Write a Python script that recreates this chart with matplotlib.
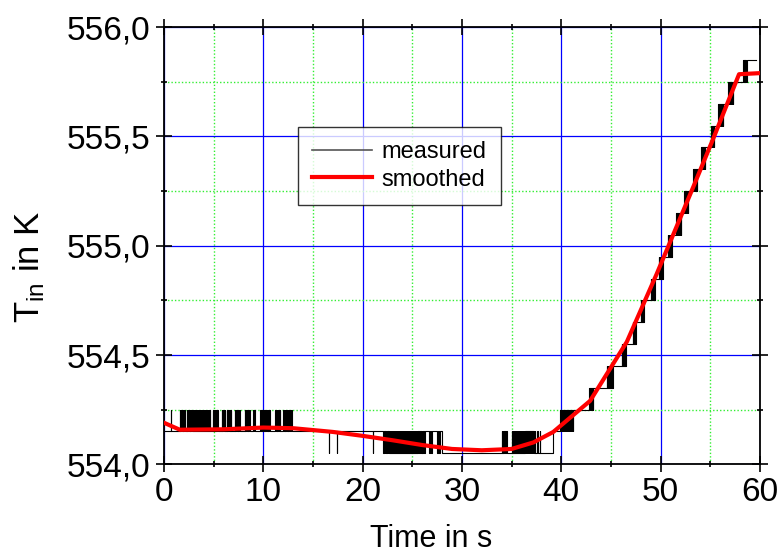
import matplotlib.pyplot as plt
import numpy as np
from matplotlib.ticker import FixedLocator

plt.rcParams['font.family'] = ['Liberation Sans', 'DejaVu Sans']
plt.rcParams['mathtext.fontset'] = 'custom'
plt.rcParams['mathtext.rm'] = 'Liberation Sans'
plt.rcParams['mathtext.it'] = 'Liberation Sans'

# raw sensor reading: settled quantised level and the time it is reached
settle_t = [0.0, 28.0, 39.2, 41.2, 43.2, 45.2, 46.5, 47.5, 48.3, 49.4, 50.2,
            51.2, 52.1, 52.8, 53.7, 54.5, 55.4, 56.3, 57.3, 58.7]
settle_T = [554.15, 554.05, 554.15, 554.25, 554.35, 554.45, 554.55, 554.65,
            554.75, 554.85, 554.95, 555.05, 555.15, 555.25, 555.35, 555.45,
            555.55, 555.65, 555.75, 555.85]
end_t = 59.6
q_step = 0.1      # resolution of the reading in K
blip = 0.05       # duration of a single flicker in s

# times where the reading flickers one step up
flicker_up = [
    0.7, 1.6, 1.75, 1.9, 2.05, 2.3, 2.45, 2.6, 2.75, 2.9, 3.0, 3.1, 3.2, 3.3,
    3.4, 3.5, 3.6, 3.7, 3.8, 3.9, 4.0, 4.1, 4.2, 4.3, 4.4, 4.5, 4.6,
    4.9, 5.05, 5.2, 5.35, 5.8, 5.95, 6.1, 6.3, 6.45, 6.6, 6.75, 7.15, 7.3,
    7.45, 7.6, 8.15, 8.3, 8.45, 8.6, 9.0, 9.1, 9.7, 9.85, 10.0, 10.15, 10.3,
    10.45, 10.6, 11.2, 11.35, 11.5, 11.65, 12.0, 12.15, 12.3, 12.45, 12.6, 12.8,
    34.0, 34.1, 34.25, 34.45, 35.0, 35.1, 35.2, 35.3, 35.4, 35.5, 35.6, 35.7,
    35.8, 35.9, 36.0, 36.1, 36.2, 36.3, 36.4, 36.5, 36.6, 36.7, 36.8, 36.9,
    37.0, 37.1, 37.2, 37.35, 37.6, 37.85,
    39.9, 40.0, 40.1, 40.2, 40.3, 40.4, 40.5, 40.6, 40.7, 40.8, 40.9, 41.0, 41.1,
    42.8, 42.9, 43.0, 43.1,
    44.6, 44.7, 44.8, 44.9, 45.0, 45.1,
    46.1, 46.2, 46.3, 46.4,
    47.2, 47.3, 47.4,
    48.0, 48.1, 48.2,
    49.0, 49.1, 49.2, 49.3,
    49.8, 49.9, 50.0, 50.1,
    50.7, 50.8, 50.9, 51.0, 51.1,
    51.6, 51.7, 51.8, 51.9, 52.0,
    52.4, 52.5, 52.6, 52.7,
    53.3, 53.4, 53.5, 53.6,
    54.1, 54.2, 54.3, 54.4,
    55.1, 55.2, 55.3,
    55.8, 55.9, 56.0, 56.1, 56.2,
    56.8, 56.9, 57.0, 57.1, 57.2,
    58.3, 58.4, 58.5, 58.6,
]

# times where the reading drops one step down
flicker_down = [
    16.6, 17.4, 21.0, 22.1, 22.25, 22.4, 22.55, 22.7, 22.8, 22.9, 23.0, 23.1,
    23.2, 23.3, 23.4, 23.5, 23.6, 23.7, 23.8, 23.9, 24.0, 24.1, 24.2, 24.3,
    24.4, 24.5, 24.6, 24.7, 24.8, 24.9, 25.0, 25.1, 25.2, 25.3, 25.4, 25.5,
    25.7, 25.9, 26.0, 26.2, 26.7, 26.9, 27.5, 27.7,
]

# smoothed signal
smooth_t = [0, 1.6, 6, 10, 13, 17, 20, 23, 26, 29, 32, 35, 37.2, 39.2,
            42.9, 46.6, 49.6, 53.3, 55.3, 57.9, 60]
smooth_T = [554.19, 554.158, 554.16, 554.168, 554.165, 554.148, 554.13,
            554.11, 554.088, 554.07, 554.064, 554.07, 554.10, 554.148,
            554.29, 554.56, 554.87, 555.27, 555.49, 555.785, 555.79]

x_ticks = [0, 10, 20, 30, 40, 50, 60]
y_ticks = [554.0, 554.5, 555.0, 555.5, 556.0]
y_labels = ['554,0', '554,5', '555,0', '555,5', '556,0']


def settled(t):
    i = np.searchsorted(settle_t, t, side='right') - 1
    return settle_T[i]


# build the step signal from settled levels plus flickers
events = list(zip(settle_t, settle_T))
for t in flicker_up:
    b = settled(t)
    events += [(t, b + q_step), (t + blip, b)]
for t in flicker_down:
    b = settled(t)
    events += [(t, b - q_step), (t + blip, b)]
events.sort()
events.append((end_t, settle_T[-1]))
meas_t = [e[0] for e in events]
meas_T = [e[1] for e in events]

fig = plt.figure(figsize=(7.77, 5.56), dpi=100)
ax = fig.add_axes([0.211, 0.165, 0.767, 0.786])

ax.plot(meas_t, meas_T, color='black', lw=0.8, drawstyle='steps-post',
        label='measured', zorder=3)
ax.plot(smooth_t, smooth_T, color='#ff0000', lw=3, label='smoothed', zorder=4)

ax.set_xlim(0, 60)
ax.set_ylim(554.0, 556.0)
ax.xaxis.set_major_locator(FixedLocator(x_ticks))
ax.xaxis.set_minor_locator(FixedLocator([5, 15, 25, 35, 45, 55]))
ax.yaxis.set_major_locator(FixedLocator(y_ticks))
ax.yaxis.set_minor_locator(FixedLocator([554.25, 554.75, 555.25, 555.75]))
ax.set_yticklabels(y_labels)

ax.grid(which='major', color='#0000ff', lw=0.9, zorder=1)
ax.grid(which='minor', color='#33ee33', lw=1.0, linestyle=(0, (1, 1.5)), zorder=1)
ax.set_axisbelow(True)

ax.tick_params(which='major', direction='inout', length=11, width=1.2,
               labelsize=24, pad=4, top=True, right=True)
ax.tick_params(which='minor', direction='inout', length=5, width=1.2,
               top=True, right=True)
for s in ax.spines.values():
    s.set_linewidth(1.3)

ax.set_xlabel('Time in s', fontsize=22)
ax.xaxis.set_label_coords(0.448, -0.137)
ax.set_ylabel(r'T$_{\mathregular{in}}$ in K', fontsize=25)
ax.yaxis.set_label_coords(-0.197, 0.453)

leg = ax.legend(loc='upper left', bbox_to_anchor=(0.225, 0.771), fontsize=17,
                frameon=True, fancybox=False, borderpad=0.6,
                handlelength=2.55, handletextpad=0.4, labelspacing=0.22,
                borderaxespad=0)
leg.get_frame().set_edgecolor('black')
leg.get_frame().set_linewidth(1.0)
leg.get_lines()[0].set_color('#555555')
leg.get_lines()[0].set_linewidth(1.2)

fig.savefig('out.png', dpi=100)
